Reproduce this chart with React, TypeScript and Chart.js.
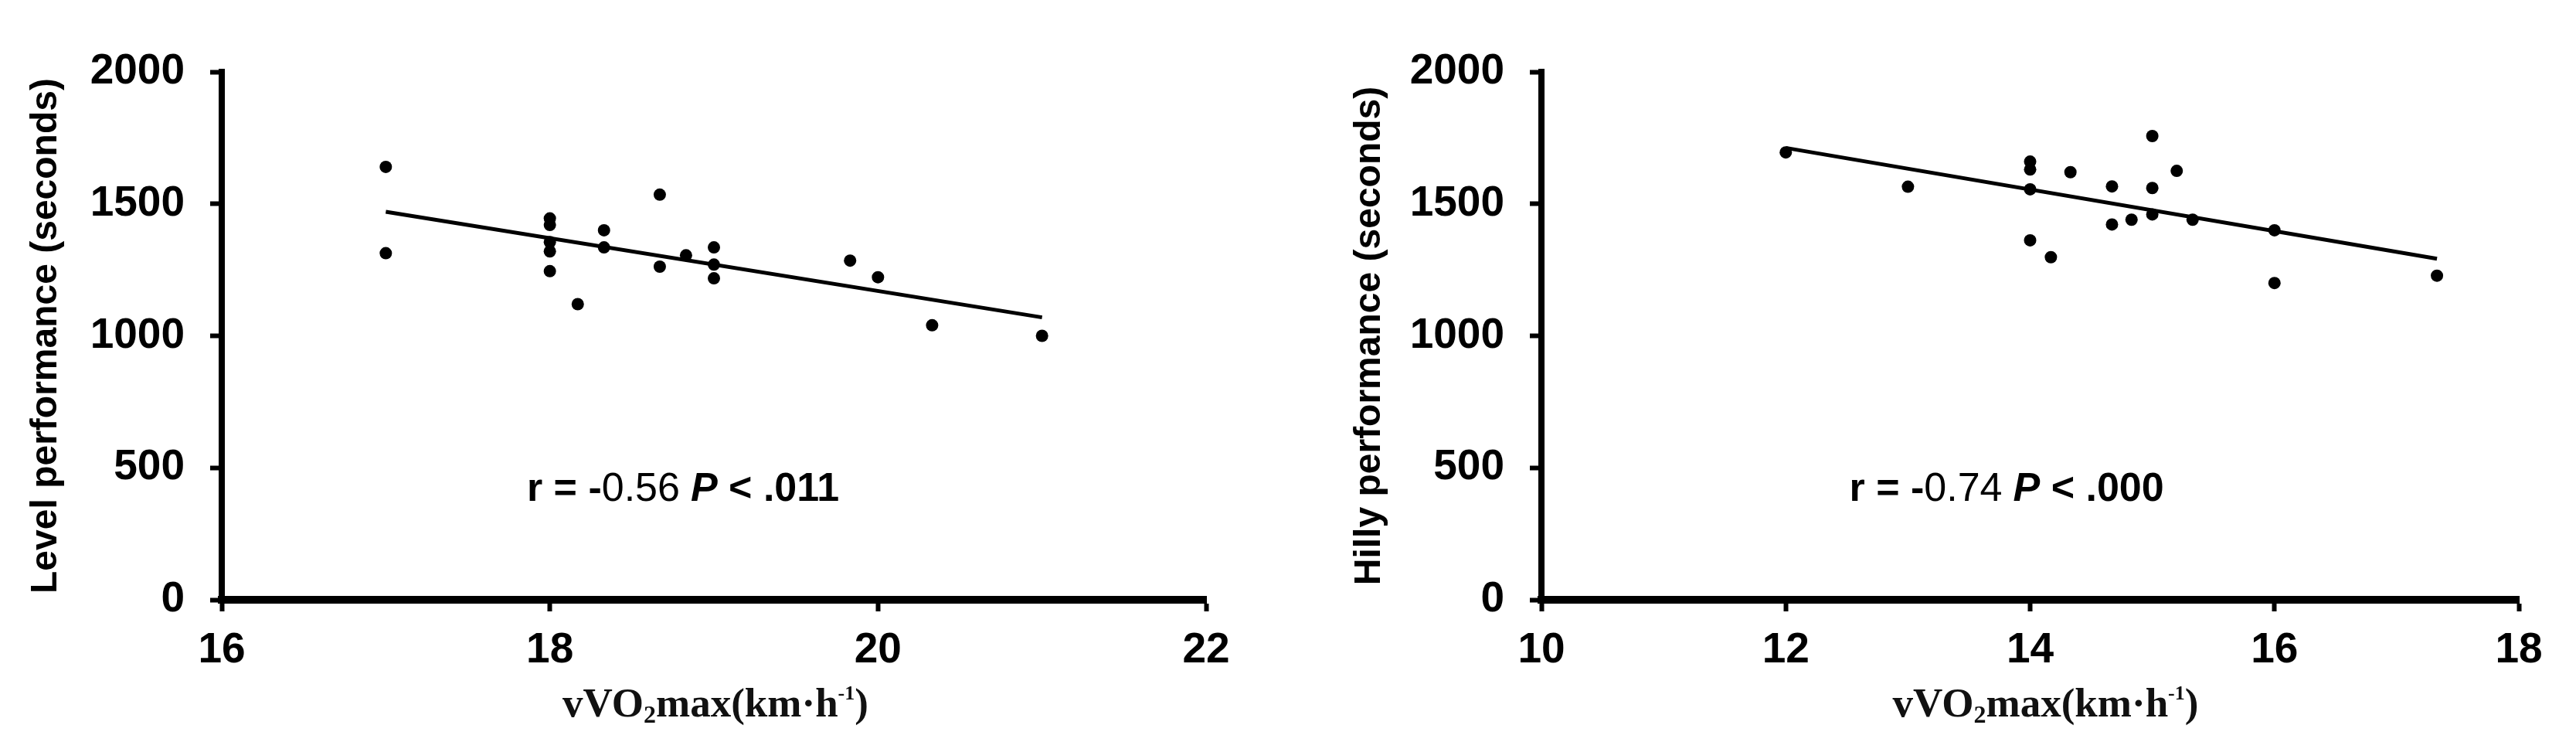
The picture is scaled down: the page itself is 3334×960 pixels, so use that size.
import { useEffect, useRef } from 'react';
import { Chart, registerables } from 'chart.js';

Chart.register(...registerables);

// ---------- data ----------
const levelX = [17, 17, 18, 18, 18, 18, 18, 18.17, 18.33, 18.33, 18.67, 18.67, 18.83, 19, 19, 19, 19.83, 20, 20.33, 21];
const levelY = [1640, 1313, 1445, 1420, 1355, 1320, 1245, 1120, 1400, 1335, 1535, 1262, 1305, 1335, 1270, 1218, 1285, 1222, 1040, 1000];
const levelFitX = [17, 21];
const levelFitY = [1470, 1070];

const hillyX = [12, 13, 14, 14, 14, 14, 14.17, 14.33, 14.67, 14.67, 14.83, 15, 15, 15, 15.2, 15.33, 16, 16, 17.33];
const hillyY = [1695, 1565, 1660, 1630, 1555, 1362, 1298, 1620, 1566, 1422, 1440, 1757, 1560, 1460, 1625, 1440, 1400, 1200, 1228];
const hillyFitX = [12, 17.33];
const hillyFitY = [1712, 1292];

const yTicks = [0, 500, 1000, 1500, 2000];
const levelXTicks = [16, 18, 20, 22];
const hillyXTicks = [10, 12, 14, 16, 18];

const levelYTitle = 'Level performance (seconds)';
const hillyYTitle = 'Hilly performance (seconds)';
const xTitleParts = ['vVO', '2', 'max(km·h', '-1', ')'];
const levelStat = ['r = ', '-', '0.56', 'P', ' < .011'];
const hillyStat = ['r = ', '-', '0.74', 'P', ' < .000'];

// ---------- styles ----------
const SANS = "'Liberation Sans', Arial, Helvetica, sans-serif";
const SERIF = "'Liberation Serif', 'Times New Roman', serif";

const statPlugin = {
  id: 'stat',
  afterDraw(chart: any, _args: any, opts: any) {
    if (!opts || !opts.parts) return;
    const { ctx, scales } = chart;
    let x = scales.x.getPixelForValue(opts.x);
    const y = scales.y.getPixelForValue(opts.y);
    ctx.save();
    ctx.fillStyle = '#000';
    ctx.textAlign = 'left';
    ctx.textBaseline = 'alphabetic';
    opts.parts.forEach((t: string, i: number) => {
      ctx.font = opts.fonts[i];
      ctx.fillText(t, x, y);
      x += ctx.measureText(t).width + (opts.gaps[i] || 0);
    });
    ctx.restore();
  },
};

const xTitlePlugin = {
  id: 'xtitle',
  afterDraw(chart: any, _args: any, opts: any) {
    if (!opts || !opts.parts) return;
    const { ctx, chartArea } = chart;
    ctx.save();
    ctx.fillStyle = '#111';
    ctx.textAlign = 'left';
    ctx.textBaseline = 'alphabetic';
    let total = 0;
    const widths: number[] = [];
    opts.parts.forEach((t: string, i: number) => {
      ctx.font = opts.fonts[i];
      const w = ctx.measureText(t).width;
      widths.push(w);
      total += w;
    });
    let x = (chartArea.left + chartArea.right) / 2 + opts.dx - total / 2;
    const base = chartArea.bottom + opts.dy;
    opts.parts.forEach((t: string, i: number) => {
      ctx.font = opts.fonts[i];
      ctx.fillText(t, x, base + opts.shifts[i]);
      x += widths[i];
    });
    ctx.restore();
  },
};

type Cfg = {
  xs: number[];
  ys: number[];
  fx: number[];
  fy: number[];
  xTicks: number[];
  yTitle: string;
  stat: string[];
  statX: number;
  yAxisWidth: number;
  padRight: number;
  titlePad: number;
  xTitleDx: number;
};

function makeChart(canvas: HTMLCanvasElement, c: Cfg) {
  const tickFont = { family: SANS, size: 55, weight: 'bold' as const };
  return new Chart(canvas, {
    type: 'scatter',
    data: {
      datasets: [
        {
          data: c.fx.map((x, i) => ({ x, y: c.fy[i] })),
          showLine: true,
          borderColor: '#000',
          borderWidth: 5,
          pointRadius: 0,
          fill: false,
        },
        {
          data: c.xs.map((x, i) => ({ x, y: c.ys[i] })),
          backgroundColor: '#000',
          borderColor: '#000',
          pointRadius: 8,
          pointBorderWidth: 0,
        },
      ],
    },
    options: {
      responsive: false,
      animation: false,
      devicePixelRatio: 1,
      layout: { padding: { left: 0, top: 93, right: c.padRight, bottom: 0 } },
      plugins: {
        legend: { display: false },
        tooltip: { enabled: false },
        stat: {
          x: c.statX,
          y: 375,
          parts: c.stat,
          fonts: [
            `bold 52px ${SANS}`,
            `bold 52px ${SANS}`,
            `normal 52px ${SANS}`,
            `italic bold 52px ${SANS}`,
            `bold 52px ${SANS}`,
          ],
          gaps: [0, 0, 14, 0, 0],
        },
        xtitle: {
          parts: xTitleParts,
          fonts: [
            `bold 53px ${SERIF}`,
            `bold 32px ${SERIF}`,
            `bold 53px ${SERIF}`,
            `bold 26px ${SERIF}`,
            `bold 53px ${SERIF}`,
          ],
          shifts: [0, 8, 0, -22, 0],
          dx: c.xTitleDx,
          dy: 151,
        },
      } as any,
      scales: {
        x: {
          type: 'linear',
          min: c.xTicks[0],
          max: c.xTicks[c.xTicks.length - 1],
          afterBuildTicks: (s: any) => {
            s.ticks = c.xTicks.map((v) => ({ value: v }));
          },
          afterFit: (s: any) => {
            s.height = 184;
          },
          border: { display: true, color: '#000', width: 10 },
          grid: {
            display: true,
            drawOnChartArea: false,
            drawTicks: true,
            tickLength: 15,
            tickWidth: 6,
            tickColor: '#000',
            color: '#000',
          },
          ticks: {
            color: '#000',
            font: tickFont,
            padding: 18,
            maxRotation: 0,
            autoSkip: false,
            callback: (v: any) => String(v),
          },
        },
        y: {
          type: 'linear',
          min: yTicks[0],
          max: yTicks[yTicks.length - 1],
          afterBuildTicks: (s: any) => {
            s.ticks = yTicks.map((v) => ({ value: v }));
          },
          afterFit: (s: any) => {
            s.width = c.yAxisWidth;
          },
          border: { display: true, color: '#000', width: 8 },
          grid: {
            display: true,
            drawOnChartArea: false,
            drawTicks: true,
            tickLength: 15,
            tickWidth: 6,
            tickColor: '#000',
            color: '#000',
          },
          ticks: {
            color: '#000',
            font: tickFont,
            padding: 33,
            autoSkip: false,
            callback: (v: any) => String(v),
          },
          title: {
            display: true,
            text: c.yTitle,
            color: '#000',
            font: { family: SANS, size: 48, weight: 'bold' },
            padding: { top: c.titlePad, bottom: 0 },
          },
        },
      },
    },
    plugins: [statPlugin, xTitlePlugin],
  } as any);
}

export default function App() {
  const leftRef = useRef<HTMLCanvasElement>(null);
  const rightRef = useRef<HTMLCanvasElement>(null);

  useEffect(() => {
    document.body.style.margin = '0';
    const a = makeChart(leftRef.current!, {
      xs: levelX,
      ys: levelY,
      fx: levelFitX,
      fy: levelFitY,
      xTicks: levelXTicks,
      yTitle: levelYTitle,
      stat: levelStat,
      statX: 17.86,
      yAxisWidth: 287,
      padRight: 106,
      titlePad: 31,
      xTitleDx: 2,
    });
    const b = makeChart(rightRef.current!, {
      xs: hillyX,
      ys: hillyY,
      fx: hillyFitX,
      fy: hillyFitY,
      xTicks: hillyXTicks,
      yTitle: hillyYTitle,
      stat: hillyStat,
      statX: 12.52,
      yAxisWidth: 328,
      padRight: 74,
      titlePad: 77,
      xTitleDx: 20,
    });
    return () => {
      a.destroy();
      b.destroy();
    };
  }, []);

  return (
    <div style={{ position: 'absolute', left: 0, top: 0, width: 3334, height: 960, background: '#fff', overflow: 'hidden' }}>
      <canvas ref={leftRef} width={1667} height={960} style={{ position: 'absolute', left: 0, top: 0, width: 1667, height: 960 }} />
      <canvas ref={rightRef} width={1667} height={960} style={{ position: 'absolute', left: 1667, top: 0, width: 1667, height: 960 }} />
    </div>
  );
}
